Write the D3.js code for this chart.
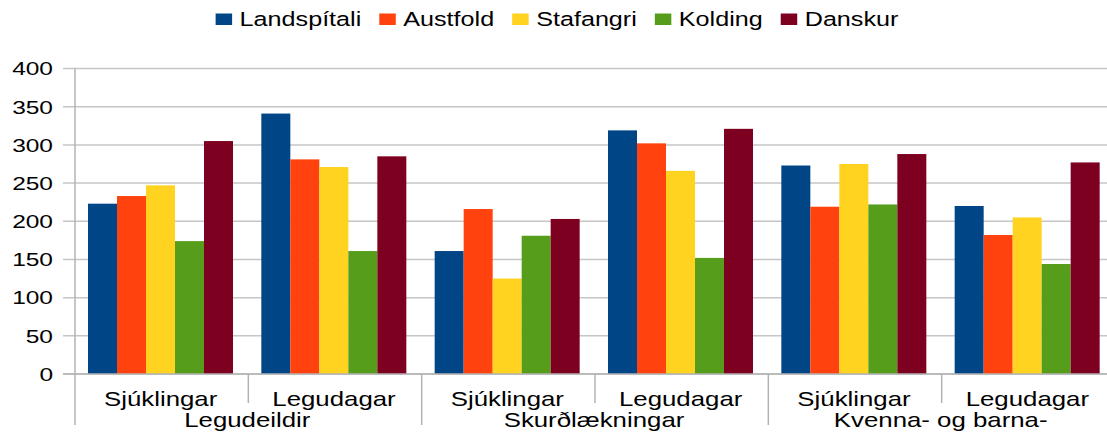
<!DOCTYPE html>
<html>
<head>
<meta charset="utf-8">
<script src="https://cdn.jsdelivr.net/npm/d3@7"></script>
<style>
  body { margin: 0; background: #fff; }
  text { font-family: "Liberation Sans", Arial, sans-serif; fill: #000; }
</style>
</head>
<body>
<div id="chart"></div>
<script>
var series = ["Landspítali", "Austfold", "Stafangri", "Kolding", "Danskur"];
var colors = ["#004586", "#ff420e", "#ffd320", "#579d1c", "#7e0021"];
var subCategories = ["Sjúklingar", "Legudagar", "Sjúklingar", "Legudagar", "Sjúklingar", "Legudagar"];
var mainCategories = ["Legudeildir", "Skurðlækningar", "Kvenna- og barna-"];
var yTicks = [0, 50, 100, 150, 200, 250, 300, 350, 400];

// one array per series, one value per sub category
var landspitali = [223, 341, 161, 319, 273, 220];
var austfold    = [233, 281, 216, 302, 219, 182];
var stafangri   = [247, 271, 125, 266, 275, 205];
var kolding     = [174, 161, 181, 152, 222, 144];
var danskur     = [305, 285, 203, 321, 288, 277];

var values = [landspitali, austfold, stafangri, kolding, danskur];

var width = 1107, height = 433;
var plot = {left: 75, right: 1115, top: 68.5, bottom: 374};
var stretch = 1.29; // text in the picture is wider than plain Arial

var svg = d3.select("#chart").append("svg")
  .attr("width", width)
  .attr("height", height);

var x0 = d3.scaleBand()
  .domain(d3.range(subCategories.length))
  .range([plot.left, plot.right]);

var x1 = d3.scaleBand()
  .domain(series)
  .range([13, 158]);

var y = d3.scaleLinear()
  .domain([0, 400])
  .range([plot.bottom, plot.top]);

var color = d3.scaleOrdinal().domain(series).range(colors);

// grid lines
svg.append("g")
  .selectAll("line")
  .data(yTicks)
  .enter().append("line")
  .attr("x1", plot.left - 12)
  .attr("x2", width)
  .attr("y1", function(d) { return y(d); })
  .attr("y2", function(d) { return y(d); })
  .attr("stroke", "#c6c6c6")
  .attr("stroke-width", 1.5);

// y tick labels
svg.append("g")
  .selectAll("text")
  .data(yTicks)
  .enter().append("text")
  .attr("text-anchor", "end")
  .attr("dy", "0.36em")
  .attr("transform", function(d) { return "translate(53," + y(d) + ") scale(" + stretch + ",1)"; })
  .style("font-size", "19px")
  .text(function(d) { return d; });

// bars
var rows = [];
subCategories.forEach(function(c, i) {
  series.forEach(function(s, j) {
    rows.push({idx: i, series: s, value: values[j][i]});
  });
});

svg.append("g")
  .selectAll("rect")
  .data(rows)
  .enter().append("rect")
  .attr("x", function(d) { return x0(d.idx) + x1(d.series); })
  .attr("y", function(d) { return y(d.value); })
  .attr("width", x1.bandwidth())
  .attr("height", function(d) { return y(0) - y(d.value); })
  .attr("fill", function(d) { return color(d.series); });

// axes lines
var axisColor = "#b3b3b3";
svg.append("line")
  .attr("x1", plot.left).attr("x2", plot.left)
  .attr("y1", plot.top).attr("y2", 425)
  .attr("stroke", axisColor).attr("stroke-width", 1.5);

svg.append("line")
  .attr("x1", plot.left - 12).attr("x2", width)
  .attr("y1", plot.bottom).attr("y2", plot.bottom)
  .attr("stroke", axisColor).attr("stroke-width", 1.5);

// separators between sub categories (long ones between main groups)
svg.append("g")
  .selectAll("line")
  .data(d3.range(1, subCategories.length))
  .enter().append("line")
  .attr("x1", function(d) { return x0(d); })
  .attr("x2", function(d) { return x0(d); })
  .attr("y1", plot.bottom)
  .attr("y2", function(d) { return d % 2 === 0 ? 425 : 403; })
  .attr("stroke", axisColor)
  .attr("stroke-width", 1.5);

// sub category labels
svg.append("g")
  .selectAll("text")
  .data(subCategories)
  .enter().append("text")
  .attr("text-anchor", "middle")
  .attr("transform", function(d, i) { return "translate(" + (x0(i) + x0.bandwidth() / 2 - 1) + ",405.5) scale(" + stretch + ",1)"; })
  .style("font-size", "20px")
  .text(function(d) { return d; });

// main category labels
svg.append("g")
  .selectAll("text")
  .data(mainCategories)
  .enter().append("text")
  .attr("text-anchor", "middle")
  .attr("transform", function(d, i) { return "translate(" + (x0(i * 2 + 1) - 1) + ",427) scale(" + stretch + ",1)"; })
  .style("font-size", "20px")
  .text(function(d) { return d; });

// legend
var legend = svg.append("g");
var items = legend.selectAll("g")
  .data(series)
  .enter().append("g");

items.append("rect")
  .attr("y", 13.5)
  .attr("width", 16.5)
  .attr("height", 11.5)
  .attr("fill", color);

items.append("text")
  .attr("transform", "translate(24,25.7) scale(" + stretch + ",1)")
  .style("font-size", "19.5px")
  .text(function(d) { return d; });

var pos = 0;
items.each(function(d) {
  var w = d3.select(this).select("text").node().getComputedTextLength() * stretch;
  d3.select(this).attr("transform", "translate(" + pos + ",0)");
  this.__w = 24 + w;
  pos += 24 + w + 18;
});
var total = pos - 18;
legend.attr("transform", "translate(" + (557 - total / 2) + ",0)");
</script>
</body>
</html>
